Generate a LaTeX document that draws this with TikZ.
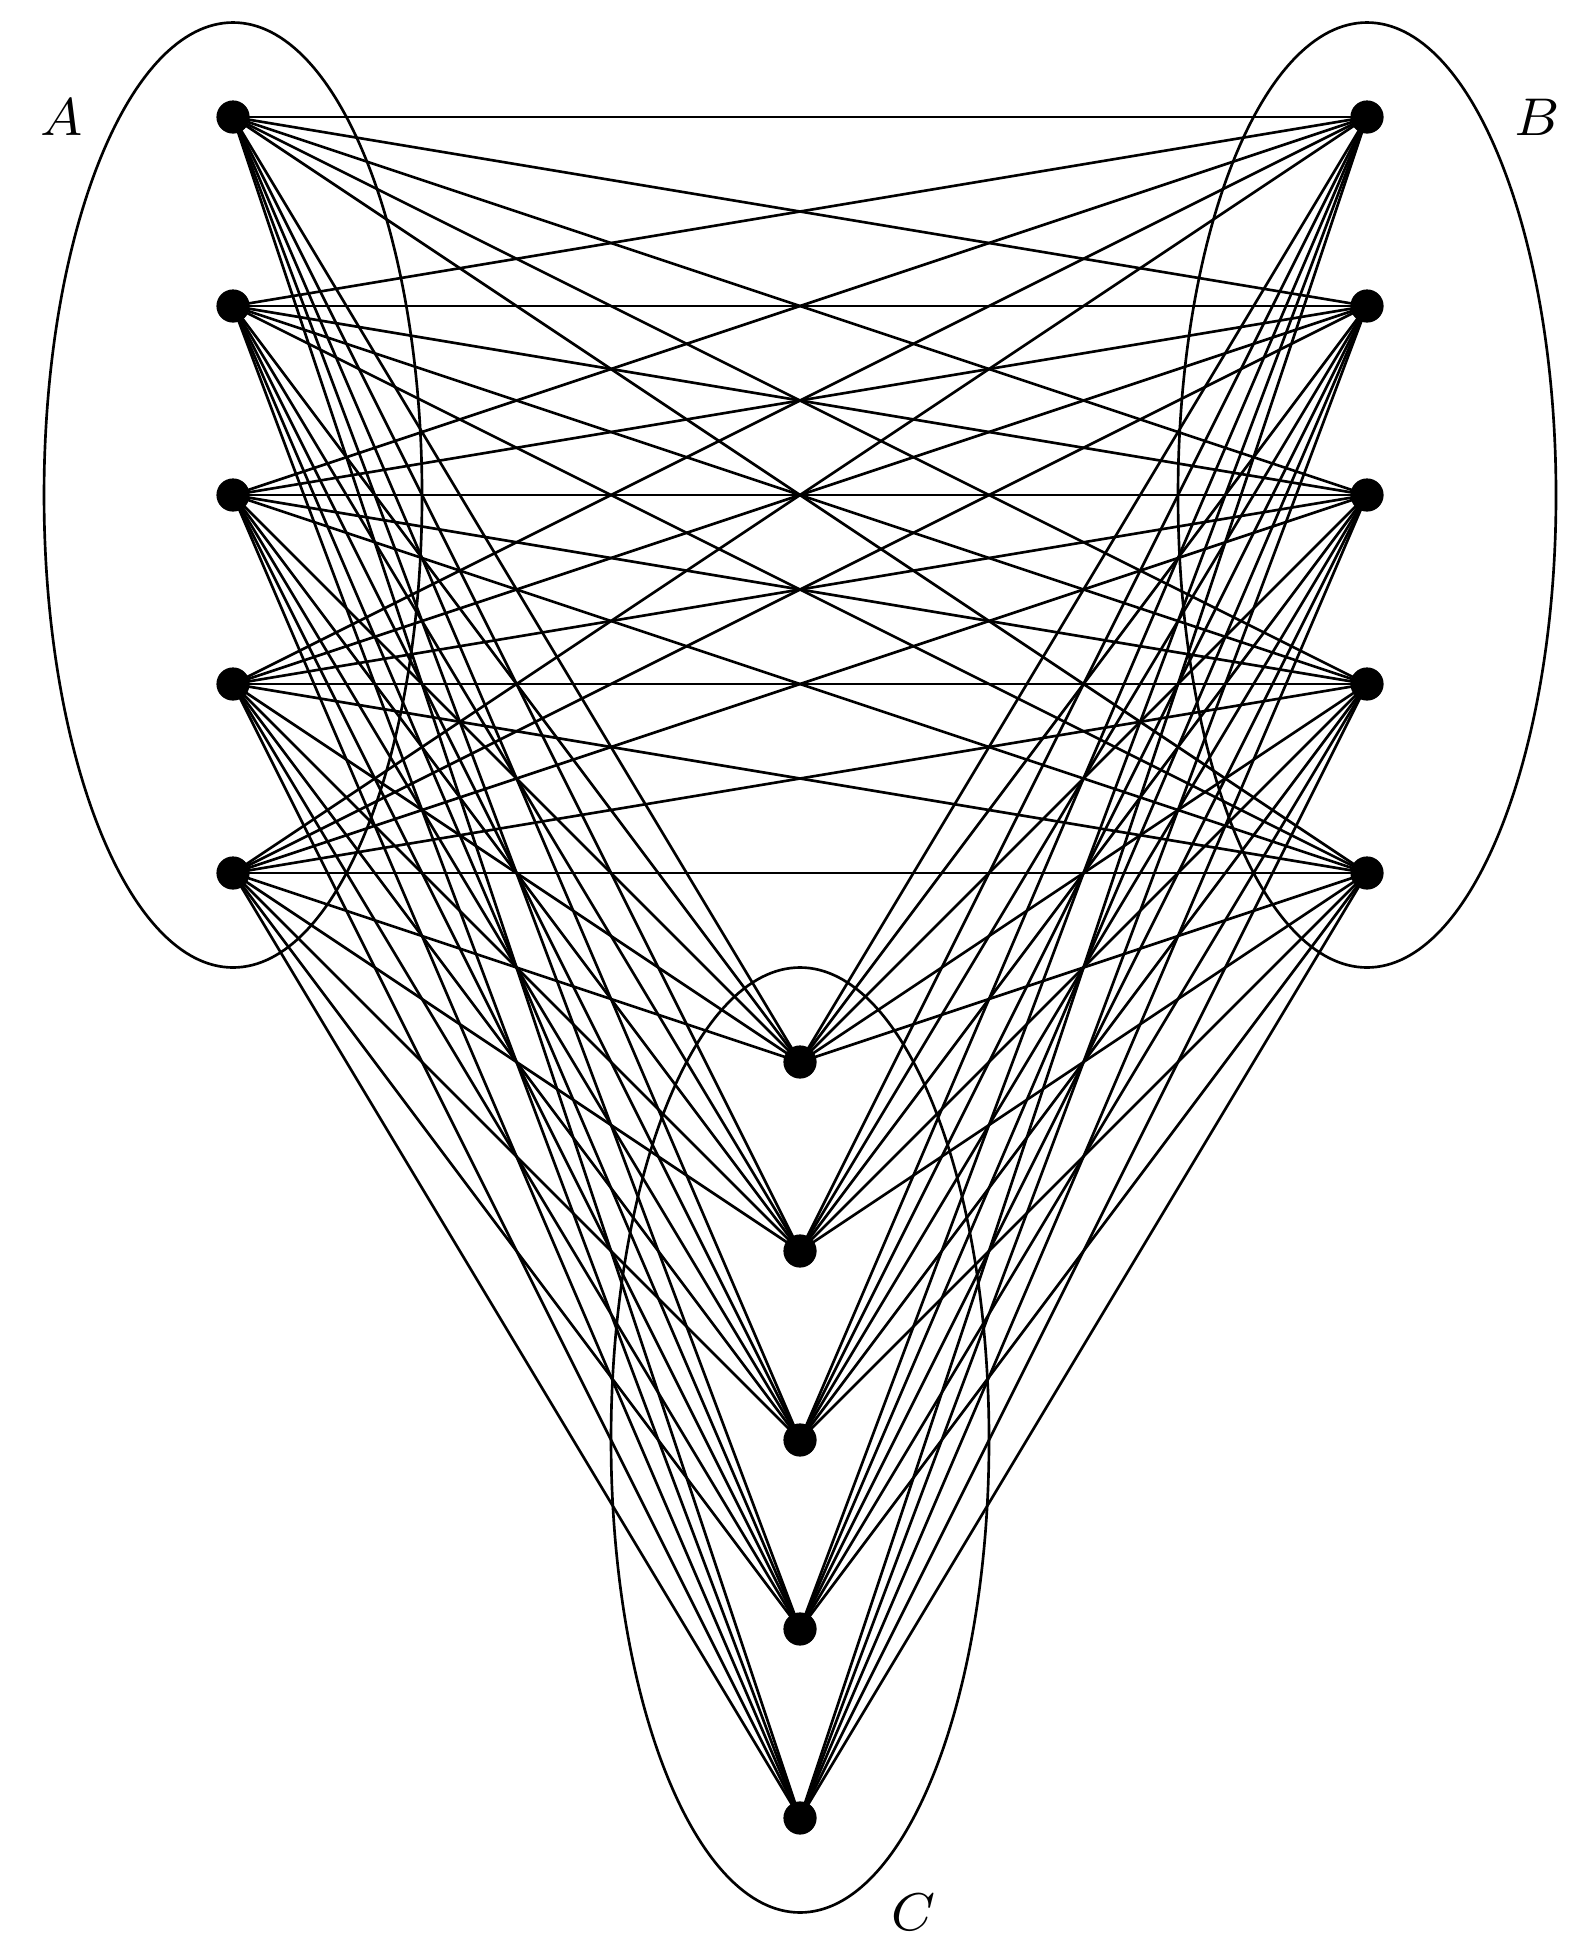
\documentclass[tikz,border=0pt]{standalone}
\begin{document}
\begin{tikzpicture}[x=1cm,y=1cm,
  vert/.style={circle,fill=black,inner sep=0pt,minimum size=5pt},
  grp/.style={draw,line width=0.4pt},
  edge/.style={line width=0.4pt},
  lbl/.style={font=\footnotesize}]
\useasboundingbox (-1.233,-9.725) rectangle (7.148,0.619);
\foreach \i in {1,...,5} {
  \node[vert] (a\i) at (0,{-(\i-1)}) {};
  \node[vert] (b\i) at (6,{-(\i-1)}) {};
  \node[vert] (c\i) at (3,{-(\i+4)}) {};
}
\draw[grp] (0,-2) ellipse (1 and 2.5);
\draw[grp] (6,-2) ellipse (1 and 2.5);
\draw[grp] (3,-7) ellipse (1 and 2.5);
\node[lbl] (la) at (-0.905,0) {$A$};
\node[lbl] (lb) at (6.90,0) {$B$};
\node[lbl] (lc) at (3.60,-9.50) {$C$};
\foreach \i in {1,...,5} {
  \foreach \j in {1,...,5} {
    \draw[edge] (a\i.center) -- (b\j.center);
    \draw[edge] (a\i.center) -- (c\j.center);
    \draw[edge] (b\i.center) -- (c\j.center);
  }
}
\end{tikzpicture}
\end{document}
